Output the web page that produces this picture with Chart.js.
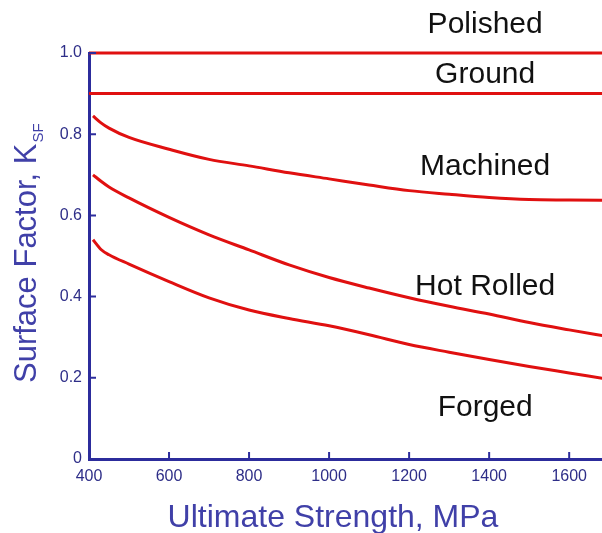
<!DOCTYPE html>
<html>
<head>
<meta charset="utf-8">
<script src="https://cdn.jsdelivr.net/npm/chart.js@4"></script>
<style>
  body { margin: 0; background: #fff; }
  canvas { display: block; }
</style>
</head>
<body>
<canvas id="surfaceChart" width="602" height="533"></canvas>
<script>
// surface factor vs ultimate strength

const strengths = [410, 430, 450, 500, 600, 700, 800, 900, 1000, 1100, 1200, 1300, 1400, 1500, 1600, 1700];
const machined  = [0.845, 0.828, 0.815, 0.792, 0.763, 0.738, 0.722, 0.705, 0.690, 0.675, 0.661, 0.652, 0.644, 0.639, 0.638, 0.637];
const hotRolled = [0.700, 0.684, 0.670, 0.643, 0.595, 0.552, 0.515, 0.478, 0.447, 0.421, 0.397, 0.376, 0.357, 0.336, 0.318, 0.301];
const forged    = [0.540, 0.516, 0.503, 0.480, 0.437, 0.397, 0.367, 0.346, 0.328, 0.306, 0.282, 0.263, 0.245, 0.228, 0.212, 0.196];

const flatX    = [400, 1700];
const polished = [1.0, 1.0];
const ground   = [0.9, 0.9];

const xTicks = [400, 600, 800, 1000, 1200, 1400, 1600];
const yTicks = [0, 0.2, 0.4, 0.6, 0.8, 1.0];

// curve names, placed in data units
const curveLabels = [
    { text: 'Polished',   x: 1390, y: 1.049 },
    { text: 'Ground',     x: 1390, y: 0.926 },
    { text: 'Machined',   x: 1390, y: 0.700 },
    { text: 'Hot Rolled', x: 1390, y: 0.404 },
    { text: 'Forged',     x: 1390, y: 0.106 }
];

const RED = '#e01010';
const AXIS = '#2c2c9c';
const TITLE = '#4040a8';
const TICK = '#2e2e88';

const toPoints = (xs, ys) => ys.map((y, i) => ({ x: xs[i], y: y }));

function line(data) {
    return {
        data: data,
        borderColor: RED,
        borderWidth: 3,
        pointRadius: 0,
        cubicInterpolationMode: 'monotone',
        clip: false
    };
}

const decorations = {
    id: 'decorations',
    afterDraw(chart) {
        const ctx = chart.ctx;
        const xs = chart.scales.x, ys = chart.scales.y;
        const area = chart.chartArea;
        ctx.save();

        // inward tick marks
        ctx.strokeStyle = AXIS;
        ctx.lineWidth = 2;
        ctx.beginPath();
        xTicks.forEach(v => {
            const px = xs.getPixelForValue(v);
            ctx.moveTo(px, area.bottom);
            ctx.lineTo(px, area.bottom - 7);
        });
        yTicks.forEach(v => {
            const py = ys.getPixelForValue(v);
            ctx.moveTo(area.left, py);
            ctx.lineTo(area.left + 7, py);
        });
        ctx.stroke();

        // curve labels
        ctx.fillStyle = '#111';
        ctx.font = '30px "Liberation Sans", Arial, sans-serif';
        ctx.textAlign = 'center';
        ctx.textBaseline = 'alphabetic';
        curveLabels.forEach(l => {
            ctx.fillText(l.text, xs.getPixelForValue(l.x), ys.getPixelForValue(l.y));
        });

        // x title
        ctx.fillStyle = TITLE;
        ctx.font = '32px "Liberation Sans", Arial, sans-serif';
        ctx.fillText('Ultimate Strength, MPa', 333, 527);

        // y title with subscript
        ctx.translate(36, 383);
        ctx.rotate(-Math.PI / 2);
        ctx.textAlign = 'left';
        ctx.font = '31px "Liberation Sans", Arial, sans-serif';
        const main = 'Surface Factor, K';
        ctx.fillText(main, 0, 0);
        const w = ctx.measureText(main).width;
        ctx.font = '15px "Liberation Sans", Arial, sans-serif';
        ctx.fillText('SF', w + 1, 7);

        ctx.restore();
    }
};

document.addEventListener('DOMContentLoaded', () => {
    const ctx = document.getElementById('surfaceChart').getContext('2d');
    new Chart(ctx, {
        type: 'line',
        data: {
            datasets: [
                line(toPoints(flatX, polished)),
                line(toPoints(flatX, ground)),
                line(toPoints(strengths, machined)),
                line(toPoints(strengths, hotRolled)),
                line(toPoints(strengths, forged))
            ]
        },
        options: {
            responsive: false,
            animation: false,
            layout: { padding: { top: 53, right: 0, left: 0, bottom: 0 } },
            plugins: {
                legend: { display: false },
                tooltip: { enabled: false }
            },
            scales: {
                x: {
                    type: 'linear',
                    min: 400,
                    max: 1682,
                    afterFit: s => { s.height = 74; },
                    grid: { display: false, drawTicks: false },
                    border: { display: true, color: AXIS, width: 3 },
                    ticks: {
                        stepSize: 200,
                        includeBounds: false,
                        padding: 8,
                        maxRotation: 0,
                        color: TICK,
                        font: { family: '"Liberation Sans", Arial, sans-serif', size: 16 },
                        callback: v => String(v)
                    }
                },
                y: {
                    min: 0,
                    max: 1,
                    afterFit: s => { s.width = 89; },
                    grid: { display: false, drawTicks: false },
                    border: { display: true, color: AXIS, width: 3 },
                    ticks: {
                        stepSize: 0.2,
                        padding: 7,
                        color: TICK,
                        font: { family: '"Liberation Sans", Arial, sans-serif', size: 16 },
                        callback: v => v === 0 ? '0' : v.toFixed(1)
                    }
                }
            }
        },
        plugins: [decorations]
    });
});
</script>
</body>
</html>
